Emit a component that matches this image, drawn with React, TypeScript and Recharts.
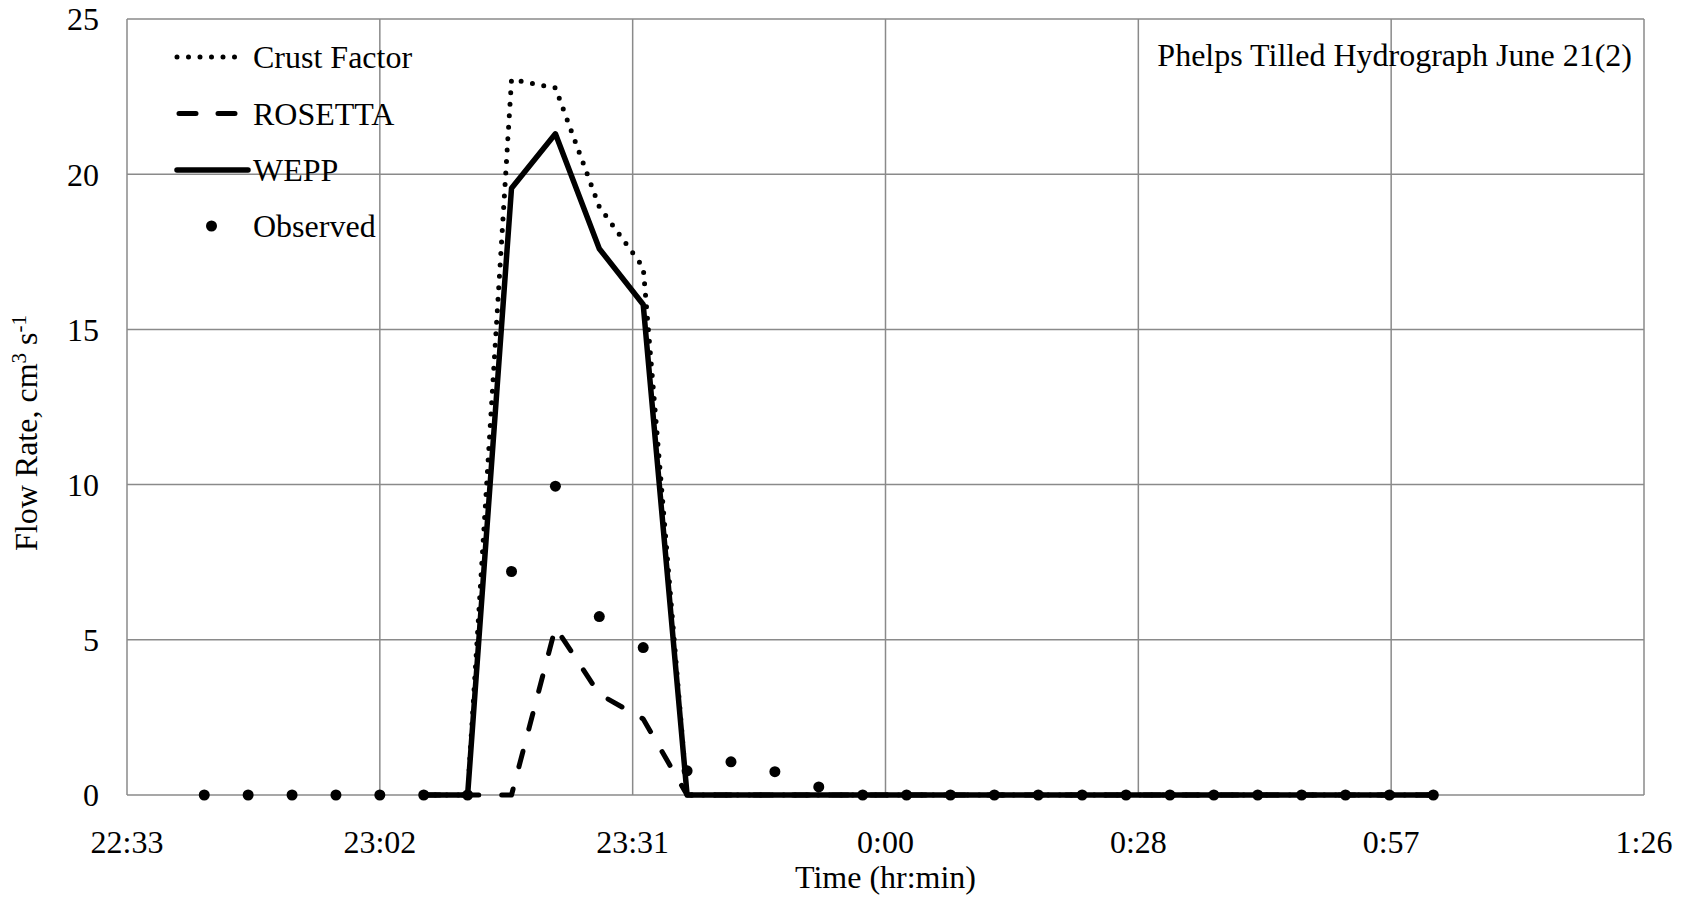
import { CartesianGrid, Customized, Legend, Line, LineChart, XAxis, YAxis } from 'recharts'

// sample times, 5 min apart, running past midnight
const times = [
  '22:42', '22:47', '22:52', '22:57', '23:02', '23:07', '23:12', '23:17', '23:22', '23:27',
  '23:32', '23:37', '23:42', '23:47', '23:52', '23:57', '0:02', '0:07', '0:12', '0:17',
  '0:22', '0:27', '0:32', '0:37', '0:42', '0:47', '0:52', '0:57', '1:02',
]

const observed = [
  0, 0, 0, 0, 0, 0, 0, 7.2, 9.95, 5.75,
  4.75, 0.78, 1.07, 0.75, 0.26, 0, 0, 0, 0, 0,
  0, 0, 0, 0, 0, 0, 0, 0, 0,
]

const crustFactor = [
  null, null, null, null, null, 0, 0, 23.05, 22.78, 18.95,
  17.0, 0, 0, 0, 0, 0, 0, 0, 0, 0,
  0, 0, 0, 0, 0, 0, 0, 0, 0,
]

const rosetta = [
  null, null, null, null, null, 0, 0, 0, 5.4, 3.25,
  2.45, 0, 0, 0, 0, 0, 0, 0, 0, 0,
  0, 0, 0, 0, 0, 0, 0, 0, 0,
]

const wepp = [
  null, null, null, null, null, 0, 0, 19.55, 21.3, 17.6,
  15.8, 0, 0, 0, 0, 0, 0, 0, 0, 0,
  0, 0, 0, 0, 0, 0, 0, 0, 0,
]

const tickLabels = ['22:33', '23:02', '23:31', '0:00', '0:28', '0:57', '1:26']
const yTicks = [0, 5, 10, 15, 20, 25]

// Excel-style time axis: fixed start and a 0.02 day major unit
const AXIS_START = 1353.2
const MAJOR_UNIT = 28.8

const FONT = '"Liberation Serif", "Times New Roman", serif'
const FONT_SIZE = 32
const GRID = '#8a8a8a'

const toMinutes = (t: string) => {
  const [h, m] = t.split(':').map(Number)
  return (h < 12 ? h + 24 : h) * 60 + m
}

const data = times.map((t, i) => ({
  time: toMinutes(t),
  observed: observed[i],
  crust: crustFactor[i],
  rosetta: rosetta[i],
  wepp: wepp[i],
}))

const xTicks = tickLabels.map((_, i) => AXIS_START + i * MAJOR_UNIT)
const formatTick = (v: number) => tickLabels[Math.round((v - AXIS_START) / MAJOR_UNIT)] ?? ''

const legendRows = [
  { name: 'Crust Factor', y: 57 },
  { name: 'ROSETTA', y: 113.5 },
  { name: 'WEPP', y: 170 },
  { name: 'Observed', y: 226 },
]

const renderLegend = () => (
  <svg width={420} height={260} style={{ position: 'absolute', left: 0, top: 0, overflow: 'visible' }}>
    <line x1={177} x2={238} y1={legendRows[0].y} y2={legendRows[0].y} stroke="#000" strokeWidth={5} strokeDasharray="0 11.5" strokeLinecap="round" />
    <line x1={179} x2={236} y1={legendRows[1].y} y2={legendRows[1].y} stroke="#000" strokeWidth={5} strokeDasharray="17 22" strokeLinecap="round" />
    <line x1={177} x2={248} y1={legendRows[2].y} y2={legendRows[2].y} stroke="#000" strokeWidth={5.5} strokeLinecap="round" />
    <circle cx={211.5} cy={legendRows[3].y} r={5.5} fill="#000" />
    {legendRows.map(row => (
      <text key={row.name} x={253} y={row.y + 11} fontFamily={FONT} fontSize={FONT_SIZE} fill="#000">
        {row.name}
      </text>
    ))}
  </svg>
)

const YLabel = () => (
  <text x={37} y={551} transform="rotate(-90 37 551)" textAnchor="start" fontFamily={FONT} fontSize={FONT_SIZE} fill="#000">
    Flow Rate, cm
    <tspan fontSize={21} dy={-11}>3</tspan>
    <tspan dy={11}> s</tspan>
    <tspan fontSize={21} dy={-11}>-1</tspan>
  </text>
)

const XLabel = ({ viewBox }: any) => (
  <text x={viewBox.x + viewBox.width / 2} y={888} textAnchor="middle" fontFamily={FONT} fontSize={FONT_SIZE} fill="#000">
    Time (hr:min)
  </text>
)

const Title = () => (
  <text x={1632} y={66} textAnchor="end" fontFamily={FONT} fontSize={FONT_SIZE} fill="#000">
    Phelps Tilled Hydrograph June 21(2)
  </text>
)

const tickStyle = { fontFamily: FONT, fontSize: FONT_SIZE, fill: '#000' }

export default function App() {
  return (
    <div style={{ position: 'absolute', left: 0, top: 0, width: 1690, height: 900, background: '#fff' }}>
      <LineChart width={1690} height={900} data={data} margin={{ top: 19, right: 46, bottom: 5, left: 27 }}>
        <CartesianGrid stroke={GRID} strokeWidth={1.5} />
        <XAxis
          dataKey="time"
          type="number"
          domain={[xTicks[0], xTicks[xTicks.length - 1]]}
          ticks={xTicks}
          tickFormatter={formatTick}
          axisLine={false}
          tickLine={false}
          tickSize={0}
          tickMargin={35}
          height={100}
          tick={tickStyle}
          interval={0}
          label={{ content: XLabel }}
        />
        <YAxis
          type="number"
          domain={[0, 25]}
          ticks={yTicks}
          axisLine={false}
          tickLine={false}
          tickSize={0}
          tickMargin={28}
          width={100}
          tick={tickStyle}
          interval={0}
          label={{ content: YLabel }}
        />
        <Legend content={renderLegend} wrapperStyle={{ position: 'absolute', left: 0, top: 0, width: 0, height: 0 }} />
        <Line
          dataKey="crust"
          name="Crust Factor"
          type="linear"
          stroke="#000"
          strokeWidth={5}
          strokeDasharray="0 11.5"
          strokeLinecap="round"
          strokeLinejoin="round"
          dot={false}
          activeDot={false}
          isAnimationActive={false}
        />
        <Line
          dataKey="rosetta"
          name="ROSETTA"
          type="linear"
          stroke="#000"
          strokeWidth={5}
          strokeDasharray="16 23"
          strokeLinecap="round"
          strokeLinejoin="round"
          dot={false}
          activeDot={false}
          isAnimationActive={false}
        />
        <Line
          dataKey="wepp"
          name="WEPP"
          type="linear"
          stroke="#000"
          strokeWidth={5.5}
          strokeLinejoin="round"
          dot={false}
          activeDot={false}
          isAnimationActive={false}
        />
        <Line
          dataKey="observed"
          name="Observed"
          type="linear"
          stroke="none"
          strokeWidth={0}
          dot={{ r: 5.5, fill: '#000', stroke: 'none', strokeWidth: 0 }}
          activeDot={false}
          isAnimationActive={false}
        />
        <Customized component={Title} />
      </LineChart>
    </div>
  )
}
